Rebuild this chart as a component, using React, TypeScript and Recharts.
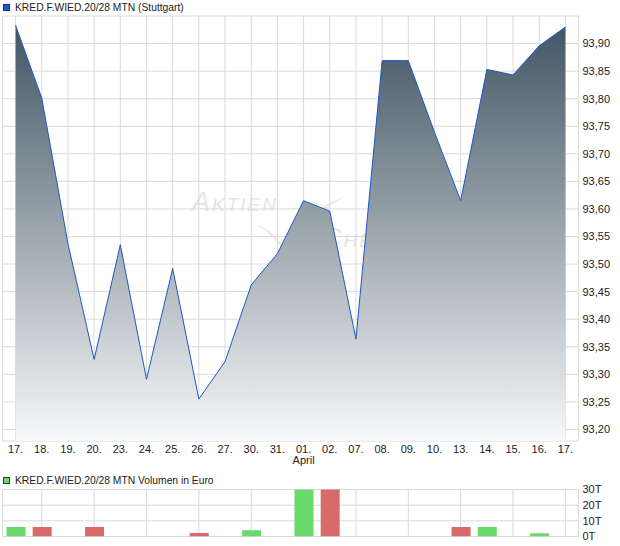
import React from 'react'
import { ComposedChart, Area, Bar, Cell, XAxis, YAxis, CartesianGrid } from 'recharts'

const dates = [
  '17.03.', '18.03.', '19.03.', '20.03.', '23.03.', '24.03.', '25.03.', '26.03.', '27.03.', '30.03.', '31.03.',
  '01.04.', '02.04.', '07.04.', '08.04.', '09.04.', '10.04.', '13.04.', '14.04.', '15.04.', '16.04.', '17.04.',
]
const prices = [
  93.933, 93.801, 93.537, 93.327, 93.535, 93.291, 93.492, 93.255, 93.323, 93.462, 93.519,
  93.615, 93.596, 93.364, 93.869, 93.869, 93.739, 93.615, 93.853, 93.843, 93.896, 93.93,
]
const volumes = [
  6000, 6000, 0, 6000, 0, 0, 0, 2300, 0, 4000, 0,
  42000, 38000, 0, 0, 0, 0, 6000, 6000, 0, 2100, 0,
]
const priceTicks = [93.2, 93.25, 93.3, 93.35, 93.4, 93.45, 93.5, 93.55, 93.6, 93.65, 93.7, 93.75, 93.8, 93.85, 93.9]
const volumeTicks = [0, 10000, 20000, 30000]
const monthNames: Record<string, string> = { '04': 'April' }

const data = dates.map((date, i) => ({
  date,
  price: prices[i],
  volume: volumes[i],
  up: i === 0 || prices[i] >= prices[i - 1],
}))

const FONT = '"Liberation Sans", Arial, sans-serif'
const GRID = '#dadada'
const TEXT = '#222'

function DayTick({ x, y, payload }: any) {
  const [day, month] = String(payload.value).split('.')
  return (
    <text x={x} y={y} textAnchor="middle" fontSize={11} fill={TEXT} fontFamily={FONT}>
      <tspan x={x} dy="0.71em">{day}.</tspan>
      {day === '01' && <tspan x={x} dy={11}>{monthNames[month]}</tspan>}
    </text>
  )
}

const legendRow = (top: number, color: string, border: string, label: string) => (
  <div style={{ position: 'absolute', left: 3, top, height: 14, display: 'flex', alignItems: 'center', fontFamily: FONT, fontSize: 10.3, color: TEXT, whiteSpace: 'nowrap' }}>
    <span style={{ width: 5, height: 5, background: color, border: `1px solid ${border}`, marginRight: 5 }} />
    {label}
  </div>
)

const watermark: React.CSSProperties = {
  position: 'absolute',
  fontFamily: FONT,
  fontStyle: 'italic',
  fontVariant: 'small-caps',
  fontSize: 27,
  color: '#e9e4dd',
  letterSpacing: 2,
}

export default function App() {
  return (
    <div style={{ position: 'absolute', left: 0, top: 0, width: 620, height: 546, background: '#fff', overflow: 'hidden' }}>
      {/* watermark behind the price chart */}
      <div style={{ ...watermark, left: 192, top: 187 }}>Aktien</div>
      <div style={{ ...watermark, left: 322, top: 223 }}>Check</div>
      <svg width={620} height={470} style={{ position: 'absolute', left: 0, top: 0 }}>
        <path d="M256,224 Q272,230 283,246 Q305,212 345,196 Q306,220 285,254 Q276,236 256,224 Z" fill="#ece7e1" />
      </svg>

      {legendRow(0, '#1f5bc6', '#1a2f66', 'KRED.F.WIED.20/28 MTN (Stuttgart)')}

      <div style={{ position: 'absolute', left: 0, top: 0 }}>
        <ComposedChart width={620} height={470} data={data} margin={{ top: 16, right: 0, bottom: 0, left: 2.5 }}>
          <defs>
            <linearGradient id="priceFill" x1="0" y1="0" x2="0" y2="1">
              <stop offset="0%" stopColor="#425664" />
              <stop offset="100%" stopColor="#f7f8f9" />
            </linearGradient>
          </defs>
          <CartesianGrid stroke={GRID} />
          <XAxis
            dataKey="date"
            scale="band"
            interval={0}
            axisLine={false}
            tickLine={false}
            tickSize={0}
            tickMargin={4}
            height={29}
            tick={<DayTick />}
          />
          <YAxis
            orientation="right"
            domain={[93.179, 93.95]}
            ticks={priceTicks}
            interval={0}
            allowDataOverflow
            width={41.5}
            axisLine={false}
            tickLine={false}
            tickSize={0}
            tickMargin={4}
            tick={{ fontSize: 11, fill: TEXT, fontFamily: FONT, textAnchor: 'start' }}
            tickFormatter={(v: number) => v.toFixed(2).replace('.', ',')}
          />
          <Area
            type="linear"
            dataKey="price"
            stroke="#1c58c8"
            strokeWidth={1}
            fill="url(#priceFill)"
            fillOpacity={1}
            dot={false}
            activeDot={false}
            isAnimationActive={false}
          />
        </ComposedChart>
      </div>

      {legendRow(473, '#69d96a', '#234423', 'KRED.F.WIED.20/28 MTN Volumen in Euro')}

      <div style={{ position: 'absolute', left: 0, top: 470 }}>
        <ComposedChart width={620} height={76} data={data} margin={{ top: 19.5, right: 0, bottom: 9.5, left: 2.5 }}>
          <CartesianGrid stroke={GRID} />
          <XAxis dataKey="date" hide />
          <YAxis
            orientation="right"
            domain={[0, 30000]}
            ticks={volumeTicks}
            interval={0}
            allowDataOverflow
            width={41.5}
            axisLine={false}
            tickLine={false}
            tickSize={0}
            tickMargin={4}
            tick={{ fontSize: 11, fill: TEXT, fontFamily: FONT, textAnchor: 'start' }}
            tickFormatter={(v: number) => `${v / 1000}T`}
          />
          <Bar dataKey="volume" barSize={19} isAnimationActive={false}>
            {data.map((d) => (
              <Cell key={d.date} fill={d.up ? '#69d96a' : '#da6a6a'} />
            ))}
          </Bar>
        </ComposedChart>
      </div>
    </div>
  )
}
